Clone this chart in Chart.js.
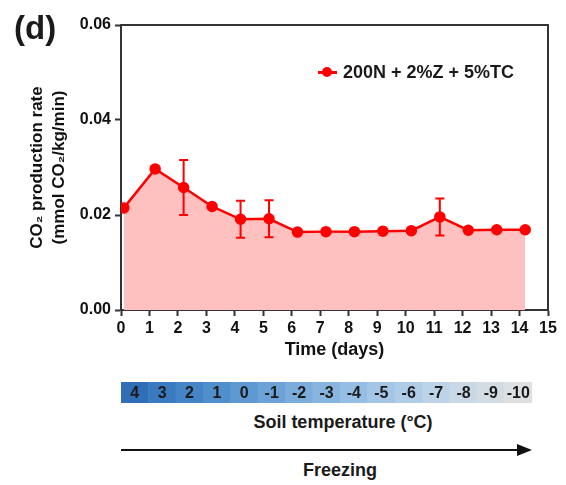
<!DOCTYPE html>
<html>
<head>
<meta charset="utf-8">
<script src="https://cdn.jsdelivr.net/npm/chart.js@4"></script>
<style>
  body { margin: 0; background: #fff; font-family: 'Liberation Sans', Arial, sans-serif; }
  #wrap { position: relative; width: 566px; height: 485px; overflow: hidden; }
  #main { position: absolute; left: 0; top: 0; }
  #bar { position: absolute; left: 0; top: 375px; }
  .txt { position: absolute; font-weight: bold; color: #1a1a1a; white-space: nowrap; }
  #panel { left: 14px; top: 9px; font-size: 33px; }
  #legend { left: 318px; top: 61px; font-size: 18px; line-height: 22px; }
  #legend .mk { display: inline-block; position: relative; width: 19px; height: 22px; vertical-align: top; margin-right: 6px; }
  #legend .mk::before { content: ''; position: absolute; left: 0; right: 0; top: 10px; height: 2.5px; background: red; }
  #legend .mk::after { content: ''; position: absolute; left: 4px; top: 6px; width: 10px; height: 10px; border-radius: 50%; background: red; }
  #soil { left: 0; width: 686px; text-align: center; top: 412px; font-size: 18px; }
  #arrow { position: absolute; left: 121px; top: 449px; width: 398px; height: 2px; background: #111; }
  #arrowhead { position: absolute; left: 517px; top: 444px; width: 0; height: 0; border-top: 6px solid transparent; border-bottom: 6px solid transparent; border-left: 15px solid #111; }
  #freeze { left: 0; width: 680px; text-align: center; top: 460px; font-size: 18px; }
</style>
</head>
<body>
<div id="wrap">
  <canvas id="main" width="566" height="365"></canvas>
  <canvas id="bar" width="566" height="28"></canvas>
  <div class="txt" id="panel">(d)</div>
  <div class="txt" id="legend"><span class="mk"></span>200N + 2%Z + 5%TC</div>
  <div class="txt" id="soil">Soil temperature (°C)</div>
  <div id="arrow"></div>
  <div id="arrowhead"></div>
  <div class="txt" id="freeze">Freezing</div>
</div>
<script>
// time (days) and CO2 production rate (mmol CO2/kg/min)
const days = [0.1, 1.2, 2.2, 3.2, 4.2, 5.2, 6.2, 7.2, 8.2, 9.2, 10.2, 11.2, 12.2, 13.2, 14.2]
const rate = [0.0215, 0.0297, 0.0258, 0.0218, 0.0191, 0.0192, 0.0164, 0.0165, 0.0165, 0.0166, 0.0167, 0.0196, 0.0168, 0.0169, 0.0169]
const rateErr = [0, 0, 0.0058, 0, 0.0039, 0.0039, 0, 0, 0, 0, 0, 0.0039, 0, 0, 0]
const seriesName = '200N + 2%Z + 5%TC'

const soilTemps = ['4', '3', '2', '1', '0', '-1', '-2', '-3', '-4', '-5', '-6', '-7', '-8', '-9', '-10']
const soilColors = ['#306fb7', '#3a7ac0', '#4584c6', '#518ecc', '#5e98d2', '#6ca2d7', '#7aacdc', '#88b5e0', '#96bee4', '#a3c6e6', '#b0cde8', '#bdd3e8', '#c9d8e6', '#d4dce3', '#dedfe0']

const FONT = "'Liberation Sans', Arial, sans-serif"
const AXIS = '#333'

const errorBars = {
  id: 'errorBars',
  afterDatasetsDraw(chart) {
    const { ctx, scales } = chart
    ctx.save()
    ctx.strokeStyle = 'red'
    ctx.lineWidth = 2
    days.forEach((d, i) => {
      if (!rateErr[i]) return
      const x = scales.x.getPixelForValue(d)
      const yTop = scales.y.getPixelForValue(rate[i] + rateErr[i])
      const yBot = scales.y.getPixelForValue(rate[i] - rateErr[i])
      ctx.beginPath()
      ctx.moveTo(x, yTop); ctx.lineTo(x, yBot)
      ctx.moveTo(x - 4.5, yTop); ctx.lineTo(x + 4.5, yTop)
      ctx.moveTo(x - 4.5, yBot); ctx.lineTo(x + 4.5, yBot)
      ctx.stroke()
    })
    ctx.restore()
  },
}

const frame = {
  id: 'frame',
  afterDraw(chart) {
    const { ctx, chartArea: a } = chart
    ctx.save()
    ctx.strokeStyle = AXIS
    ctx.lineWidth = 2
    ctx.beginPath()
    ctx.moveTo(a.left, a.top); ctx.lineTo(a.right, a.top); ctx.lineTo(a.right, a.bottom)
    ctx.stroke()
    ctx.restore()
  },
}

new Chart(document.getElementById('main'), {
  type: 'line',
  data: {
    datasets: [{
      label: seriesName,
      data: days.map((d, i) => ({ x: d, y: rate[i] })),
      borderColor: 'red',
      backgroundColor: '#ffc0c0',
      pointBackgroundColor: 'red',
      pointBorderColor: 'red',
      borderWidth: 2.5,
      pointRadius: 4.5,
      fill: 'origin',
      tension: 0,
    }],
  },
  options: {
    responsive: false,
    animation: false,
    layout: { padding: { top: 25, right: 18, left: 26, bottom: 0 } },
    plugins: { legend: { display: false }, tooltip: { enabled: false } },
    scales: {
      x: {
        type: 'linear',
        min: 0,
        max: 15,
        ticks: { stepSize: 1, color: '#111', padding: 3, font: { family: FONT, size: 16, weight: 'bold' } },
        grid: { drawOnChartArea: false, tickLength: 6, tickWidth: 2, tickColor: AXIS },
        border: { color: AXIS, width: 2 },
        title: { display: true, text: 'Time (days)', color: '#111', padding: { top: 7 }, font: { family: FONT, size: 18, weight: 'bold' } },
        afterFit(scale) { scale.height = 55 },
      },
      y: {
        min: 0,
        max: 0.06,
        ticks: { stepSize: 0.02, color: '#111', padding: 4, callback: (v) => v.toFixed(2), font: { family: FONT, size: 16, weight: 'bold' } },
        grid: { drawOnChartArea: false, tickLength: 6, tickWidth: 2, tickColor: AXIS },
        border: { color: AXIS, width: 2 },
        title: { display: true, text: ['CO\u2082 production rate', '(mmol CO\u2082/kg/min)'], color: '#111', padding: { top: 0, bottom: 0 }, font: { family: FONT, size: 17, weight: 'bold', lineHeight: 1.3 } },
        afterFit(scale) { scale.width = 95 },
      },
    },
  },
  plugins: [errorBars, frame],
})

const barLabels = {
  id: 'barLabels',
  afterDatasetsDraw(chart) {
    const { ctx } = chart
    const meta = chart.getDatasetMeta(0)
    ctx.save()
    ctx.fillStyle = '#1a1a1a'
    ctx.font = `bold 16px ${FONT}`
    ctx.textAlign = 'center'
    ctx.textBaseline = 'middle'
    meta.data.forEach((bar, i) => {
      ctx.fillText(soilTemps[i], bar.x, (bar.y + bar.base) / 2 + 1)
    })
    ctx.restore()
  },
}

new Chart(document.getElementById('bar'), {
  type: 'bar',
  data: {
    labels: soilTemps,
    datasets: [{ data: soilTemps.map(() => 1), backgroundColor: soilColors, barPercentage: 1, categoryPercentage: 1 }],
  },
  options: {
    responsive: false,
    animation: false,
    layout: { padding: { top: 7, left: 121, right: 34, bottom: 0 } },
    plugins: { legend: { display: false }, tooltip: { enabled: false } },
    scales: {
      x: { display: false },
      y: { display: false, min: 0, max: 1 },
    },
  },
  plugins: [barLabels],
})
</script>
</body>
</html>
